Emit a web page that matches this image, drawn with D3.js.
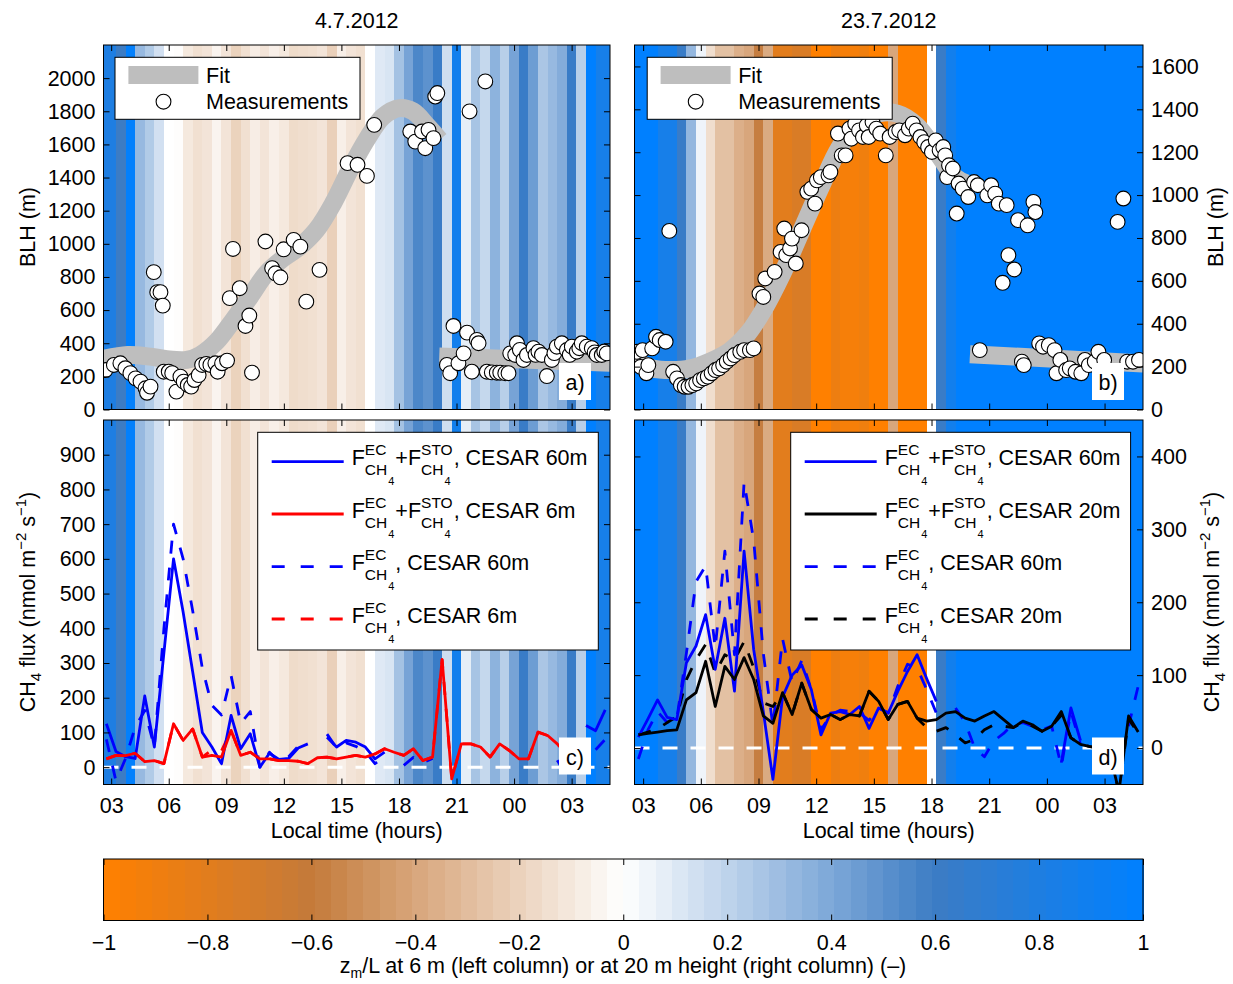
<!DOCTYPE html>
<html><head><meta charset="utf-8">
<script src="https://cdn.jsdelivr.net/npm/d3@7"></script>
<style>
body{margin:0;background:#fff;}
text{font-family:"Liberation Sans",Arial,Helvetica,sans-serif;fill:#000;}
</style></head><body>
<svg id="chart" width="1233" height="984"></svg>
<script>
// ---------- data ----------
const dayTitles = ["4.7.2012", "23.7.2012"];
const hourTicks = [3, 6, 9, 12, 15, 18, 21, 24, 27];

// stability z/L per half-hour block (block centres in local hours)
const stripeTimes = [2.5,3,3.5,4,4.5,5,5.5,6,6.5,7,7.5,8,8.5,9,9.5,10,10.5,11,11.5,12,12.5,13,13.5,14,14.5,15,15.5,16,16.5,17,17.5,18,18.5,19,19.5,20,20.5,21,21.5,22,22.5,23,23.5,24,24.5,25,25.5,26,26.5,27,27.5,28,28.5,29];
const zL6 = [0.8,0.8,0.6,0.98,0.32,0.24,0.14,0.0,-0.01,-0.1,-0.14,-0.12,-0.05,-0.12,-0.2,-0.14,-0.08,-0.12,-0.07,-0.1,-0.16,-0.15,-0.14,-0.12,-0.21,-0.07,-0.12,-0.14,0.0,0.1,0.12,0.28,0.42,0.55,0.5,0.62,0.15,0.88,0.08,0.27,0.18,0.35,0.22,0.42,0.62,0.45,0.26,0.32,0.38,0.62,0.22,1.0,0.85,0.85];
const zL20 = [1,1,1,0.85,0.85,0.62,0.33,0.05,-0.15,-0.28,-0.28,-0.36,-0.4,-0.58,-0.38,-0.8,-0.8,-0.74,-0.74,-1,-1,-0.88,-0.94,-0.94,-0.9,-1,-1,-0.4,-1,-1,-1,0,0.62,0.88,1,1,1,1,1,1,1,1,1,1,1,1,1,1,1,1,1,1,1,1];

// boundary layer height, 4 July
const blhTimeA = [2.70,3.14,3.48,3.74,4.00,4.27,4.53,4.79,4.87,5.05,5.22,5.40,5.57,5.69,5.74,6.00,6.18,6.40,6.61,6.78,6.99,7.17,7.34,7.56,7.74,7.96,8.17,8.43,8.55,8.78,9.04,9.18,9.35,9.70,10.00,10.20,10.34,11.04,11.39,11.56,11.82,11.99,12.51,12.86,13.17,13.86,15.32,15.84,16.33,16.71,18.59,18.85,19.20,19.37,19.54,19.80,19.89,20.00,20.50,20.67,20.84,21.10,21.37,21.55,21.68,21.80,22.06,22.15,22.50,22.58,22.84,23.10,23.28,23.54,23.71,23.80,24.06,24.15,24.30,24.49,24.67,25.01,25.12,25.27,25.45,25.71,25.97,26.10,26.23,26.49,26.75,26.90,27.01,27.27,27.40,27.53,27.79,28.05,28.20,28.31,28.57,28.70,28.83];
const blhValA = [238,269,279,249,219,188,168,128,101,138,829,708,708,627,228,228,219,108,198,168,148,138,178,208,269,275,269,279,228,279,295,672,969,732,504,567,222,1014,853,822,798,967,1024,983,651,843,1487,1477,1410,1718,1678,1617,1678,1577,1688,1638,1889,1910,269,219,504,279,339,464,1799,228,420,400,1980,228,224,222,222,219,219,339,329,400,360,299,329,370,330,349,329,202,299,340,379,400,359,330,379,349,370,400,379,370,345,329,329,350,339];
// boundary layer height, 23 July
const blhTimeB = [2.67,2.87,2.97,3.17,3.27,3.47,3.67,3.86,4.17,4.36,4.56,4.76,4.96,5.16,5.36,5.56,5.76,5.96,6.16,6.36,6.56,6.76,6.95,7.16,7.35,7.55,7.75,8.05,8.25,8.55,8.75,9.05,9.25,9.35,9.84,10.15,10.34,10.44,10.64,10.74,10.94,11.24,11.54,11.74,11.94,12.04,12.24,12.64,12.74,13.13,13.33,13.53,13.73,13.83,14.03,14.23,14.43,14.63,14.73,14.93,15.13,15.33,15.62,15.82,16.13,16.32,16.62,16.82,17.02,17.22,17.42,17.62,17.82,18.02,18.22,18.42,18.61,18.71,18.81,18.91,19.11,19.31,19.41,19.62,19.91,20.21,20.41,20.51,20.90,21.10,21.31,21.50,21.70,21.91,22.00,22.30,22.50,22.70,22.80,23.00,23.30,23.40,23.60,23.80,24.10,24.40,24.50,24.70,25.00,25.19,25.49,25.79,25.98,26.18,26.49,26.68,26.98,27.68,27.98,28.18,28.48,28.79];
const blhValB = [269,199,277,169,207,285,339,324,316,833,176,145,114,106,106,114,122,137,145,153,169,184,192,207,223,238,254,269,277,277,285,541,525,611,642,735,844,720,751,797,681,836,1015,1030,960,1069,1084,1092,1108,1287,1185,1185,1310,1263,1333,1302,1271,1325,1271,1341,1310,1287,1185,1271,1294,1302,1279,1310,1333,1302,1271,1247,1224,1201,1255,1209,1224,1185,1084,1139,1124,914,1054,1030,991,1061,1046,277,999,1046,1007,960,591,953,720,653,883,223,207,859,968,921,308,293,300,277,169,231,184,192,176,169,231,207,223,269,231,875,984,223,223,231];

// fitted BLH curves (day segment and night segment)
const fitDayTimeA = [2.6,3.86,5.05,5.9,6.94,7.64,8.5,9.37,10.24,11.1,11.97,12.83,13.7,14.57,15.44,16.31,17.17,18.04,18.74,19.43,20.12];
const fitDayValA  = [305,329,319,303,299,329,410,541,681,823,913,983,1084,1245,1447,1628,1768,1819,1799,1718,1628];
const fitNightTimeA = [20.1, 29.0];
const fitNightValA  = [320, 282];
const fitDayTimeB = [2.55,3.47,4.46,5.46,6.45,7.45,8.45,9.25,10.24,11.24,12.24,13.23,14.23,15.23,16.22,17.22,18.21,19.21,19.81];
const fitDayValB  = [231,192,184,192,223,269,355,463,634,836,1038,1224,1333,1380,1380,1325,1209,1084,1054];
const fitNightTimeB = [20.0, 29.0];
const fitNightValB  = [258, 215];

// CH4 fluxes, half-hourly (nmol m-2 s-1)
const fluxTimes = [2.75,3.25,3.75,4.25,4.75,5.25,5.75,6.25,6.75,7.25,7.75,8.25,8.75,9.25,9.75,10.25,10.75,11.25,11.75,12.25,12.75,13.25,13.75,14.25,14.75,15.25,15.75,16.25,16.75,17.25,17.75,18.25,18.75,19.25,19.75,20.25,20.75,21.25,21.75,22.25,22.75,23.25,23.75,24.25,24.75,25.25,25.75,26.25,26.75,27.25,27.75,28.25,28.75];
const n = null;
const fluxTot60A = [125,45,30,25,205,58,330,600,447,274,100,58,10,149,53,96,0,40,22,25,55,67,n,86,58,77,72,58,24,43,n,n,n,n,n,n,n,n,n,n,n,n,n,n,n,n,n,n,n,n,120,105,165];
const fluxEc60A  = [80,-40,25,115,163,58,400,700,600,450,285,178,150,264,126,160,0,43,14,30,60,67,n,95,55,70,60,45,10,30,n,5,28,13,25,n,n,n,n,n,n,n,n,n,n,n,n,20,-25,n,n,50,80];
const fluxTot6A  = [24,34,33,40,16,19,10,125,77,110,29,34,29,106,34,43,24,24,19,19,17,10,27,29,24,29,34,29,38,53,43,34,53,19,29,310,-34,67,67,58,29,67,48,24,24,101,91,67,40,n,n,n,n];
const fluxEc6A   = [24,34,33,40,16,19,10,125,77,110,29,50,47,106,34,43,24,24,19,19,17,10,27,29,24,29,34,29,38,53,43,34,53,19,29,310,-34,67,67,58,29,67,48,24,24,101,91,67,40,n,n,n,n];
const fluxTot60B = [15,40,66,42,39,117,140,183,108,178,78,270,135,50,-43,70,100,114,80,18,48,50,46,57,27,55,48,78,105,128,95,64,n,n,n,n,n,n,n,n,n,n,n,n,-20,55,10,n,n,n,n,n,n];
const fluxEc60B  = [-15,25,50,35,40,130,228,250,137,270,128,365,285,130,30,150,90,120,80,25,45,52,50,48,38,55,48,85,115,110,80,48,n,55,35,0,-12,10,20,33,35,30,25,30,-25,50,5,n,n,n,n,30,85];
const fluxTot20B = [18,20,22,24,25,66,76,119,57,112,94,124,94,44,34,76,46,89,53,41,46,39,46,44,78,64,39,60,64,41,37,39,48,50,41,37,44,50,39,28,37,32,23,30,50,14,5,2,0,-5,-60,44,22];
const fluxEc20B  = [18,22,26,35,43,94,121,142,103,128,121,146,110,62,57,76,46,89,53,41,46,39,46,44,78,64,39,60,64,41,28,23,28,18,7,12,25,32,30,28,35,30,23,30,45,14,5,2,0,-5,-60,40,20];

const colorbarTicks = [-1,-0.8,-0.6,-0.4,-0.2,0,0.2,0.4,0.6,0.8,1];

// ---------- setup ----------
const svg = d3.select("#chart");
const FS = 21.5;
const cmap = d3.scaleLinear()
  .domain([-1, -0.6, 0, 0.6, 1])
  .range(["#ff8000", "#c47a3a", "#ffffff", "#3c7cc4", "#0080ff"])
  .clamp(true);

const xL = d3.scaleLinear([2.6, 29], [103.5, 610]);
const xR = d3.scaleLinear([2.55, 29], [634.5, 1143]);
const yA = d3.scaleLinear([0, 2200], [409.5, 45]);
const yB = d3.scaleLinear([0, 1700], [409.5, 45]);
const yC = d3.scaleLinear([-50, 1000], [784.5, 420]);
const yD = d3.scaleLinear([-50, 450], [784.5, 420]);

const hourFmt = h => String(h % 24).padStart(2, "0");
const minusFmt = v => (v < 0 ? "\u2212" : "") + Math.abs(v);

let clipId = 0;
function makePanel(x, y) {
  const [x0, x1] = x.range(), [y1, y0] = y.range();
  const id = "clip" + (clipId++);
  svg.append("clipPath").attr("id", id).append("rect")
    .attr("x", x0).attr("y", y0).attr("width", x1 - x0).attr("height", y1 - y0);
  const g = svg.append("g").attr("clip-path", `url(#${id})`);
  return { g, x0, x1, y0, y1 };
}

function drawStripes(p, x, vals) {
  const [d0, d1] = x.domain();
  p.g.append("g").selectAll("rect").data(stripeTimes)
    .join("rect")
    .attr("x", t => x(Math.max(t - 0.25, d0)))
    .attr("width", t => x(Math.min(t + 0.25, d1)) - x(Math.max(t - 0.25, d0)) + 0.6)
    .attr("y", p.y0).attr("height", p.y1 - p.y0)
    .attr("fill", (t, i) => cmap(vals[i]))
    .attr("shape-rendering", "crispEdges");
}

function drawFrame(p, x, y, yTicks, side, showX) {
  const fixText = g => g.selectAll("text").attr("font-size", FS).attr("font-family", null);
  const clean = g => { g.select(".domain").remove(); g.selectAll(".tick line").attr("stroke", "#000"); };
  svg.append("g").attr("transform", `translate(${p.x0},0)`)
    .call(d3.axisLeft(y).tickValues(yTicks).tickSize(-6).tickPadding(8)
      .tickFormat(side === "left" ? d3.format("d") : ""))
    .call(clean).call(fixText);
  svg.append("g").attr("transform", `translate(${p.x1},0)`)
    .call(d3.axisRight(y).tickValues(yTicks).tickSize(-6).tickPadding(8)
      .tickFormat(side === "right" ? d3.format("d") : ""))
    .call(clean).call(fixText);
  svg.append("g").attr("transform", `translate(0,${p.y0})`)
    .call(d3.axisTop(x).tickValues(hourTicks).tickSize(-6).tickFormat(""))
    .call(clean);
  svg.append("g").attr("transform", `translate(0,${p.y1})`)
    .call(d3.axisBottom(x).tickValues(hourTicks).tickSize(-6).tickPadding(13)
      .tickFormat(showX ? hourFmt : ""))
    .call(clean).call(fixText);
  svg.append("rect").attr("x", p.x0).attr("y", p.y0)
    .attr("width", p.x1 - p.x0).attr("height", p.y1 - p.y0)
    .attr("fill", "none").attr("stroke", "#000").attr("stroke-width", 1);
}

function panelTag(x, y, label) {
  svg.append("rect").attr("x", x).attr("y", y).attr("width", 32).attr("height", 37).attr("fill", "#fff");
  svg.append("text").attr("x", x + 16).attr("y", y + 27).attr("text-anchor", "middle")
    .attr("font-size", FS).text(label);
}

// ---------- BLH panels ----------
function blhPanel(x, y, zl, times, vals, fits, yTicks, side, tag, legendX) {
  const p = makePanel(x, y);
  drawStripes(p, x, zl);
  const line = d3.line().x(d => x(d[0])).y(d => y(d[1])).curve(d3.curveCatmullRom);
  fits.forEach(([ft, fv]) => {
    p.g.append("path").datum(ft.map((t, i) => [t, fv[i]]))
      .attr("d", line).attr("fill", "none").attr("stroke", "#bebebe")
      .attr("stroke-width", 18).attr("stroke-linecap", "butt");
  });
  p.g.append("g").selectAll("circle").data(times)
    .join("circle")
    .attr("cx", t => x(t)).attr("cy", (t, i) => y(vals[i])).attr("r", 7.4)
    .attr("fill", "#fff").attr("stroke", "#000").attr("stroke-width", 1.1);
  // legend
  const lg = svg.append("g");
  lg.append("rect").attr("x", legendX).attr("y", 57.3).attr("width", 245).attr("height", 62)
    .attr("fill", "#fff").attr("stroke", "#000").attr("stroke-width", 1);
  lg.append("rect").attr("x", legendX + 13.4).attr("y", 66).attr("width", 70).attr("height", 18).attr("fill", "#bebebe");
  lg.append("text").attr("x", legendX + 91).attr("y", 82.5).attr("font-size", FS).text("Fit");
  lg.append("circle").attr("cx", legendX + 48.5).attr("cy", 101.7).attr("r", 7.4)
    .attr("fill", "#fff").attr("stroke", "#000").attr("stroke-width", 1.1);
  lg.append("text").attr("x", legendX + 91).attr("y", 109.3).attr("font-size", FS).text("Measurements");
  panelTag(tag[0], tag[1], tag[2]);
  drawFrame(p, x, y, yTicks, side, false);
}

blhPanel(xL, yA, zL6, blhTimeA, blhValA,
  [[fitDayTimeA, fitDayValA], [fitNightTimeA, fitNightValA]],
  d3.range(0, 2001, 200), "left", [559, 363, "a)"], 115);
blhPanel(xR, yB, zL20, blhTimeB, blhValB,
  [[fitDayTimeB, fitDayValB], [fitNightTimeB, fitNightValB]],
  d3.range(0, 1601, 200), "right", [1092, 363, "b)"], 647.2);

// ---------- flux panels ----------
function supSub(g, cx, y, sup) {
  const s1 = g.append("text").attr("x", cx).attr("y", y - 10).attr("font-size", 15.5).text(sup);
  const s2 = g.append("text").attr("x", cx).attr("y", y + 10).attr("font-size", 15.5).text("CH");
  const w2 = s2.node().getComputedTextLength();
  const s3 = g.append("text").attr("x", cx + w2 + 1).attr("y", y + 20).attr("font-size", 11).text("4");
  const w3 = s3.node().getComputedTextLength();
  return cx + Math.max(s1.node().getComputedTextLength(), w2 + 1 + w3) + 1;
}
function fluxEntry(g, x, y, withSto, tail) {
  let cx = x;
  const f = g.append("text").attr("x", cx).attr("y", y).attr("font-size", FS).text("F");
  cx += f.node().getComputedTextLength();
  cx = supSub(g, cx, y, "EC");
  if (withSto) {
    const pl = g.append("text").attr("x", cx).attr("y", y).attr("font-size", FS).text("+F");
    cx += pl.node().getComputedTextLength();
    cx = supSub(g, cx, y, "STO");
  }
  g.append("text").attr("x", cx).attr("y", y).attr("font-size", FS).text(tail);
}

function fluxPanel(x, y, zl, series, legendX, legendW, yTicks, side, tag) {
  const p = makePanel(x, y);
  drawStripes(p, x, zl);
  p.g.append("line").attr("x1", p.x0).attr("x2", p.x1).attr("y1", y(0)).attr("y2", y(0))
    .attr("stroke", "#fff").attr("stroke-width", 3).attr("stroke-dasharray", "15,13");
  const line = d3.line().defined(d => d[1] !== null).x(d => x(d[0])).y(d => y(d[1]));
  // dashed series first, solid ones on top
  const order = series.filter(s => s.dash).concat(series.filter(s => !s.dash));
  order.forEach(s => {
    p.g.append("path").datum(fluxTimes.map((t, i) => [t, s.values[i]]))
      .attr("d", line).attr("fill", "none").attr("stroke", s.color)
      .attr("stroke-width", 2.8).attr("stroke-linejoin", "round")
      .attr("stroke-dasharray", s.dash ? "13,14" : null);
  });
  const lg = svg.append("g");
  lg.append("rect").attr("x", legendX).attr("y", 432.3).attr("width", legendW).attr("height", 217.7)
    .attr("fill", "#fff").attr("stroke", "#000").attr("stroke-width", 1);
  const rows = [461.7, 514, 566.7, 619];
  series.forEach((s, k) => {
    lg.append("line").attr("x1", legendX + 14).attr("x2", legendX + 86)
      .attr("y1", rows[k]).attr("y2", rows[k]).attr("stroke", s.color).attr("stroke-width", 2.8)
      .attr("stroke-dasharray", s.dash ? "13,16" : null);
    fluxEntry(lg, legendX + 94, rows[k] + 3.5, s.sto, s.label);
  });
  panelTag(tag[0], tag[1], tag[2]);
  drawFrame(p, x, y, yTicks, side, true);
}

fluxPanel(xL, yC, zL6, [
  { values: fluxTot60A, color: "#0000ff", dash: false, sto: true, label: ", CESAR 60m" },
  { values: fluxTot6A, color: "#ff0000", dash: false, sto: true, label: ", CESAR 6m" },
  { values: fluxEc60A, color: "#0000ff", dash: true, sto: false, label: ", CESAR 60m" },
  { values: fluxEc6A, color: "#ff0000", dash: true, sto: false, label: ", CESAR 6m" }
], 257.7, 340.6, d3.range(0, 901, 100), "left", [559, 737.5, "c)"]);

fluxPanel(xR, yD, zL20, [
  { values: fluxTot60B, color: "#0000ff", dash: false, sto: true, label: ", CESAR 60m" },
  { values: fluxTot20B, color: "#000000", dash: false, sto: true, label: ", CESAR 20m" },
  { values: fluxEc60B, color: "#0000ff", dash: true, sto: false, label: ", CESAR 60m" },
  { values: fluxEc20B, color: "#000000", dash: true, sto: false, label: ", CESAR 20m" }
], 790.7, 339.9, d3.range(0, 401, 100), "right", [1092, 737.5, "d)"]);

// ---------- titles and axis labels ----------
svg.append("text").attr("x", (103.5 + 610) / 2).attr("y", 28).attr("text-anchor", "middle").attr("font-size", FS).text(dayTitles[0]);
svg.append("text").attr("x", (634.5 + 1143) / 2).attr("y", 28).attr("text-anchor", "middle").attr("font-size", FS).text(dayTitles[1]);

[[35, 227], [1223, 227]].forEach(([x, y]) => {
  svg.append("text").attr("transform", `translate(${x},${y}) rotate(-90)`)
    .attr("text-anchor", "middle").attr("font-size", FS).text("BLH (m)");
});

[[35, 602], [1219, 602]].forEach(([x, y]) => {
  const t = svg.append("text").attr("transform", `translate(${x},${y}) rotate(-90)`)
    .attr("text-anchor", "middle").attr("font-size", FS);
  t.append("tspan").text("CH");
  t.append("tspan").attr("font-size", 15).attr("dy", 6).text("4");
  t.append("tspan").attr("dy", -6).text(" flux (nmol m");
  t.append("tspan").attr("font-size", 15).attr("dy", -9).text("\u22122");
  t.append("tspan").attr("dy", 9).text(" s");
  t.append("tspan").attr("font-size", 15).attr("dy", -9).text("\u22121");
  t.append("tspan").attr("dy", 9).text(")");
});

svg.append("text").attr("x", (103.5 + 610) / 2).attr("y", 838).attr("text-anchor", "middle").attr("font-size", FS).text("Local time (hours)");
svg.append("text").attr("x", (634.5 + 1143) / 2).attr("y", 838).attr("text-anchor", "middle").attr("font-size", FS).text("Local time (hours)");

// ---------- colour bar ----------
const cb = d3.scaleLinear([-1, 1], [103.5, 1143]);
const cbTop = 859, cbBot = 920.5;
const nBands = 64;
const bands = d3.range(nBands).map(k => -1 + (k + 0.5) * 2 / nBands);
svg.append("g").selectAll("rect").data(bands).join("rect")
  .attr("x", v => cb(v - 1 / nBands)).attr("width", (cb(1) - cb(-1)) / nBands + 0.6)
  .attr("y", cbTop).attr("height", cbBot - cbTop)
  .attr("fill", v => cmap(v)).attr("shape-rendering", "crispEdges");
svg.append("g").attr("transform", `translate(0,${cbTop})`)
  .call(d3.axisTop(cb).tickValues(colorbarTicks).tickSize(-6).tickFormat(""))
  .call(g => { g.select(".domain").remove(); g.selectAll(".tick line").attr("stroke", "#000"); });
svg.append("g").attr("transform", `translate(0,${cbBot})`)
  .call(d3.axisBottom(cb).tickValues(colorbarTicks).tickSize(-6).tickPadding(14).tickFormat(minusFmt))
  .call(g => { g.select(".domain").remove(); g.selectAll(".tick line").attr("stroke", "#000");
    g.selectAll("text").attr("font-size", FS).attr("font-family", null); });
svg.append("rect").attr("x", cb(-1)).attr("y", cbTop).attr("width", cb(1) - cb(-1)).attr("height", cbBot - cbTop)
  .attr("fill", "none").attr("stroke", "#000").attr("stroke-width", 1);

const cbl = svg.append("text").attr("x", 623).attr("y", 973).attr("text-anchor", "middle").attr("font-size", FS);
cbl.append("tspan").text("z");
cbl.append("tspan").attr("font-size", 14).attr("dy", 5).text("m");
cbl.append("tspan").attr("dy", -5).text("/L at 6 m (left column) or at 20 m height (right column) (\u2013)");
</script></body></html>
